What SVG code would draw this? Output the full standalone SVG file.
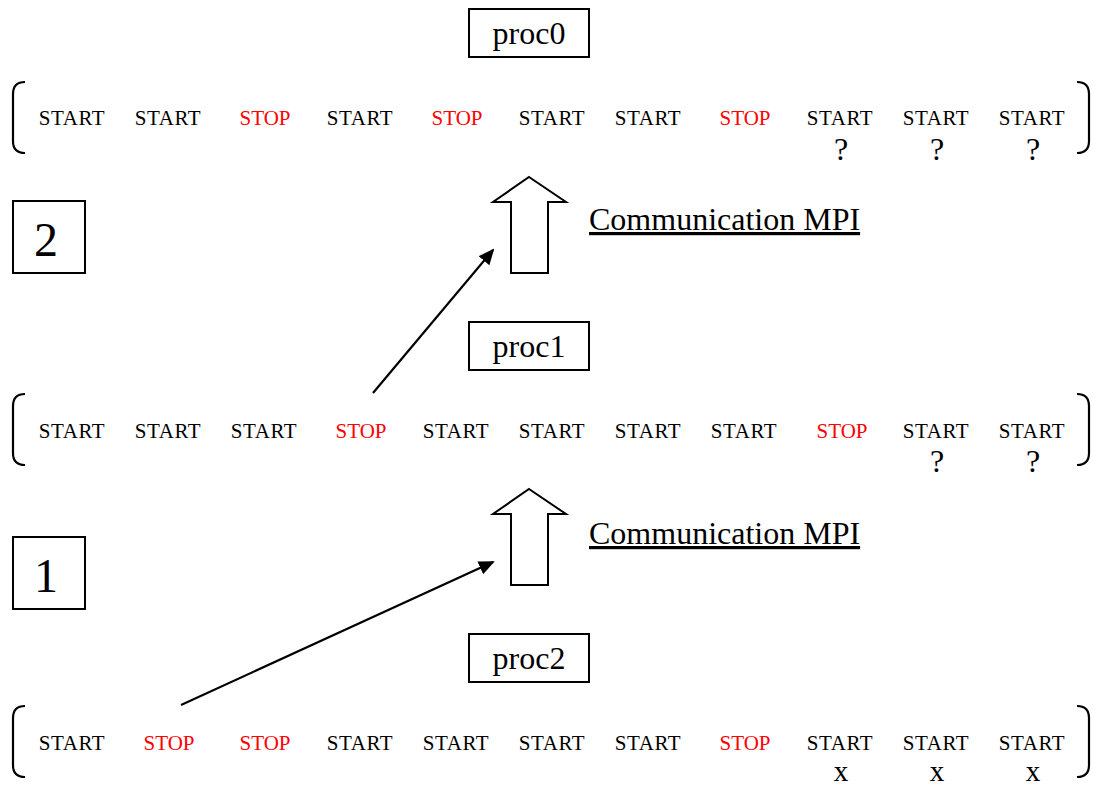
<svg xmlns="http://www.w3.org/2000/svg" width="1097" height="785" viewBox="0 0 1097 785">
<defs>
<style>
text{font-family:"Liberation Serif","Times New Roman",serif;fill:#000}
.w{font-size:21px;text-anchor:middle;letter-spacing:0.6px}
.r{fill:#ff0000;letter-spacing:0}
.q{font-size:32px;text-anchor:middle}
.x{font-size:29px;text-anchor:middle}
.lbl{font-size:32px;text-anchor:middle}
.num{font-size:48px;text-anchor:middle}
.box{fill:#fff;stroke:#000;stroke-width:2}
.br{fill:none;stroke:#000;stroke-width:2.2}
.blk{fill:#fff;stroke:#000;stroke-width:2}
.con{fill:none;stroke:#000;stroke-width:2.2}
.cm{font-size:32px;text-decoration:underline}
</style>
<marker id="ah2" markerWidth="16" markerHeight="14" refX="14" refY="7" orient="auto" markerUnits="userSpaceOnUse" viewBox="0 0 16 14">
<path d="M0,0 L16,7 L0,14 Z" fill="#000"/>
</marker>
</defs>

<g id="row-proc0">
<path class="br" d="M25,82 Q13,82 13,94 L13,141 Q13,153 25,153"/>
<path class="br" d="M1077,82 Q1089,82 1089,94 L1089,141 Q1089,153 1077,153"/>
<text class="w" x="72" y="125">START</text>
<text class="w" x="168" y="125">START</text>
<text class="w r" x="265" y="125">STOP</text>
<text class="w" x="360" y="125">START</text>
<text class="w r" x="457" y="125">STOP</text>
<text class="w" x="552" y="125">START</text>
<text class="w" x="648" y="125">START</text>
<text class="w r" x="745" y="125">STOP</text>
<text class="w" x="840" y="125">START</text>
<text class="w" x="936" y="125">START</text>
<text class="w" x="1032" y="125">START</text>
<text class="q" x="841" y="160">?</text>
<text class="q" x="937" y="160">?</text>
<text class="q" x="1033" y="160">?</text>
</g>

<g id="row-proc1">
<path class="br" d="M25,394 Q13,394 13,406 L13,453 Q13,465 25,465"/>
<path class="br" d="M1077,394 Q1089,394 1089,406 L1089,453 Q1089,465 1077,465"/>
<text class="w" x="72" y="438">START</text>
<text class="w" x="168" y="438">START</text>
<text class="w" x="264" y="438">START</text>
<text class="w r" x="361" y="438">STOP</text>
<text class="w" x="456" y="438">START</text>
<text class="w" x="552" y="438">START</text>
<text class="w" x="648" y="438">START</text>
<text class="w" x="744" y="438">START</text>
<text class="w r" x="842" y="438">STOP</text>
<text class="w" x="936" y="438">START</text>
<text class="w" x="1032" y="438">START</text>
<text class="q" x="937" y="472">?</text>
<text class="q" x="1033" y="472">?</text>
</g>

<g id="row-proc2">
<path class="br" d="M25,706 Q13,706 13,718 L13,765 Q13,777 25,777"/>
<path class="br" d="M1077,706 Q1089,706 1089,718 L1089,765 Q1089,777 1077,777"/>
<text class="w" x="72" y="750">START</text>
<text class="w r" x="169" y="750">STOP</text>
<text class="w r" x="265" y="750">STOP</text>
<text class="w" x="360" y="750">START</text>
<text class="w" x="456" y="750">START</text>
<text class="w" x="552" y="750">START</text>
<text class="w" x="648" y="750">START</text>
<text class="w r" x="745" y="750">STOP</text>
<text class="w" x="840" y="750">START</text>
<text class="w" x="936" y="750">START</text>
<text class="w" x="1032" y="750">START</text>
<text class="x" x="841" y="781">x</text>
<text class="x" x="937" y="781">x</text>
<text class="x" x="1033" y="781">x</text>
</g>

<g id="proc0">
<rect class="box" x="469" y="9" width="120" height="48"/>
<text class="lbl" x="529" y="44">proc0</text>
</g>
<g id="proc1">
<rect class="box" x="469" y="322" width="120" height="48"/>
<text class="lbl" x="529" y="357">proc1</text>
</g>
<g id="proc2">
<rect class="box" x="469" y="634" width="120" height="48"/>
<text class="lbl" x="529" y="669">proc2</text>
</g>

<g id="step2">
<rect class="box" x="13" y="201" width="72" height="72"/>
<text class="num" x="46" y="256">2</text>
</g>
<g id="step1">
<rect class="box" x="13" y="537" width="72" height="72"/>
<text class="num" x="46" y="592">1</text>
</g>

<g id="comm2">
<path class="blk" d="M529,177 L566,202 L548,202 L548,273 L511,273 L511,202 L493,202 Z"/>
<text class="cm" x="589" y="230">Communication MPI</text>
</g>
<g id="comm1">
<path class="blk" d="M529,489 L566,514 L548,514 L548,585 L511,585 L511,514 L493,514 Z"/>
<text class="cm" x="589" y="544">Communication MPI</text>
</g>

<g id="connectors">
<line class="con" x1="373" y1="393" x2="493" y2="250" marker-end="url(#ah2)"/>
<line class="con" x1="181" y1="705" x2="493" y2="562" marker-end="url(#ah2)"/>
</g>
</svg>
